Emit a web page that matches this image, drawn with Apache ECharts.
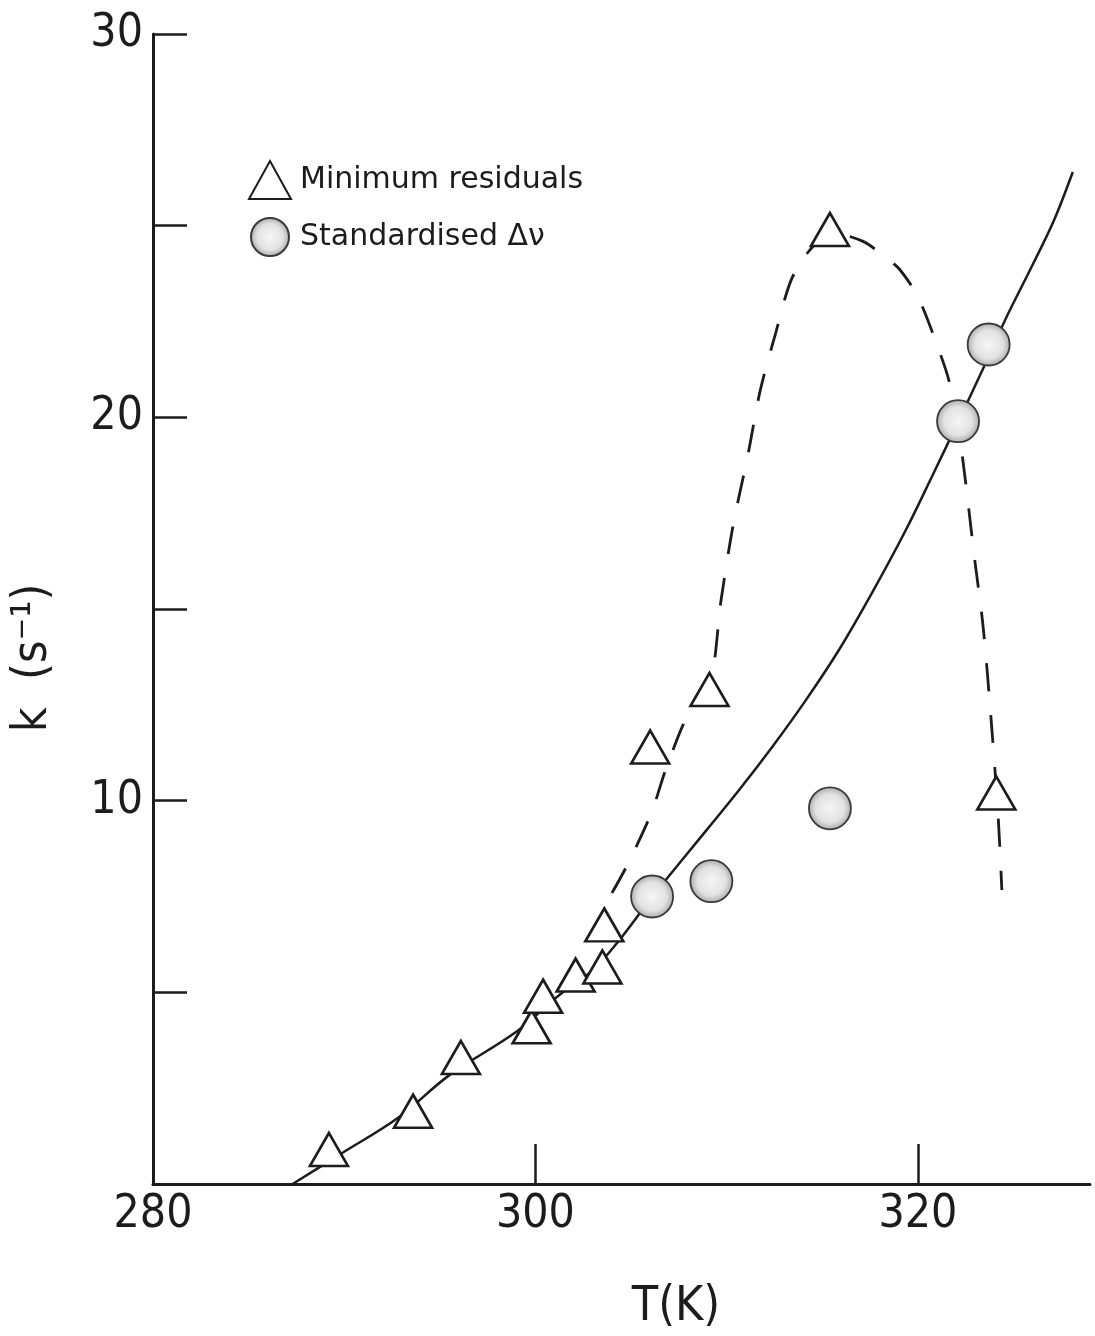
<!doctype html>
<html>
<head>
<meta charset="utf-8">
<title>k vs T</title>
<style type="text/css">
html, body {
  margin: 0;
  padding: 0;
  background: #fff;
}
#chart {
  width: 1095px;
  height: 1336px;
}
</style>
<script type="text/javascript" src="https://cdn.jsdelivr.net/npm/echarts@6/dist/echarts.min.js"></script>
</head>
<body>
<div id="chart"></div>
<script type="text/javascript">
// minimum residuals (triangles)
var triT = [289.2, 293.6, 296.1, 299.8, 300.4, 302.1, 303.5, 303.6, 306.0, 309.1, 315.4, 324.1];
var triK = [0.9, 1.9, 3.3, 4.1, 4.9, 5.45, 5.66, 6.76, 11.4, 12.9, 24.9, 10.2];

// standardised (circles)
var circT = [306.1, 309.2, 315.4, 322.1, 323.7];
var circK = [7.5, 7.9, 9.8, 19.9, 21.9];

// solid curve
var solidT = [287.3, 289.9, 292.8, 295.5, 299.0, 301.25, 303.0, 304.4, 306.1, 308.04, 310.65, 312.38, 314.15, 315.87, 317.6, 319.37, 320.73, 322.1, 323.4, 324.6, 326.0, 327.1, 328.1];
var solidK = [0, 0.81, 1.72, 2.84, 3.97, 4.93, 5.58, 6.37, 7.49, 8.68, 10.28, 11.4, 12.63, 13.93, 15.42, 17.06, 18.45, 19.88, 21.26, 22.58, 23.98, 25.12, 26.4];

// dashed curve
var dashT = [304.0, 304.8, 306.06, 306.84, 308.04, 309.09, 309.71, 310.34, 311.12, 311.75, 312.58, 313.37, 314.31, 315.46, 317.13, 318.28, 319.06, 320.0, 320.94, 321.67, 322.27, 322.98, 323.39, 323.76, 324.18, 324.39];
var dashK = [7.59, 8.32, 9.68, 10.85, 12.31, 12.94, 15.24, 17.19, 19.04, 20.69, 22.23, 23.58, 24.34, 24.81, 24.59, 24.18, 23.85, 23.14, 21.97, 20.87, 19.18, 16.25, 14.64, 12.55, 9.73, 7.67];

var xLabels = [280, 300, 320];
var xTicks = [300, 320];
var yLabels = [10, 20, 30];
var yTicks = [5, 10, 15, 20, 25, 30];

function pairs(a, b) {
    var res = [];
    for (var i = 0; i < a.length; i++) {
        res.push([a[i], b[i]]);
    }
    return res;
}

var ink = '#1c1c1c';
var font = "'DejaVu Sans Condensed', 'Liberation Sans Narrow', 'DejaVu Sans', sans-serif";
var legendFont = "'DejaVu Sans', sans-serif";

var circleFill = {
    type: 'radial', x: 0.5, y: 0.5, r: 0.5,
    colorStops: [
        {offset: 0, color: '#f6f6f6'},
        {offset: 0.65, color: '#e2e2e2'},
        {offset: 1, color: '#a9a9a9'}
    ]
};

var myChart = echarts.init(document.getElementById('chart'));

var option = {
    backgroundColor: '#fff',
    animation: false,
    grid: {left: 153, right: 5, top: 34, bottom: 152},
    legend: {
        left: 243,
        top: 155,
        orient: 'vertical',
        itemWidth: 42,
        itemHeight: 38,
        itemGap: 17,
        textStyle: {fontSize: 30, color: ink, fontFamily: legendFont, padding: [0, 0, 0, 4]},
        data: [
            {name: 'Minimum residuals', icon: 'triangle'},
            {name: 'Standardised \u0394\u03bd', icon: 'circle'}
        ]
    },
    xAxis: {
        type: 'value',
        min: 280,
        max: 329,
        interval: 20,
        splitLine: {show: false},
        axisLine: {show: true, onZero: false, lineStyle: {color: ink, width: 3}},
        axisTick: {show: true, inside: true, length: 40, customValues: xTicks, lineStyle: {color: ink, width: 2.5}},
        axisLabel: {customValues: xLabels, fontSize: 46, color: ink, fontFamily: font, margin: 8}
    },
    yAxis: {
        type: 'value',
        min: 0,
        max: 30,
        interval: 5,
        splitLine: {show: false},
        axisLine: {show: true, onZero: false, lineStyle: {color: ink, width: 3}},
        axisTick: {show: true, inside: true, length: 34, customValues: yTicks, lineStyle: {color: ink, width: 2.5}},
        axisLabel: {customValues: yLabels, fontSize: 46, color: ink, fontFamily: font, margin: 10}
    },
    graphic: [
        {
            type: 'text',
            x: 34, y: 658,
            rotation: Math.PI / 2,
            style: {text: 'k  (s\u207b\u00b9)', fill: ink, font: "48px " + font, align: 'center', verticalAlign: 'middle'}
        },
        {
            type: 'text',
            x: 676, y: 1308,
            style: {text: 'T(K)', fill: ink, font: "48px " + font, align: 'center', verticalAlign: 'middle'}
        }
    ],
    series: [
        {
            type: 'line',
            data: pairs(solidT, solidK),
            smooth: 0.35,
            symbol: 'none',
            z: 2,
            lineStyle: {color: ink, width: 2.5}
        },
        {
            type: 'line',
            data: pairs(dashT, dashK),
            smooth: 0.3,
            symbol: 'none',
            z: 2,
            lineStyle: {color: ink, width: 2.8, type: [28, 24]}
        },
        {
            name: 'Standardised \u0394\u03bd',
            type: 'scatter',
            data: pairs(circT, circK),
            symbol: 'circle',
            symbolSize: 42,
            z: 4,
            itemStyle: {color: circleFill, borderColor: '#3a3a3a', borderWidth: 1.8, opacity: 1}
        },
        {
            name: 'Minimum residuals',
            type: 'scatter',
            data: pairs(triT, triK),
            symbol: 'triangle',
            symbolSize: [38, 33],
            z: 5,
            itemStyle: {color: '#fff', borderColor: ink, borderWidth: 2.6, opacity: 1}
        }
    ]
};
myChart.setOption(option);
</script>
</body>
</html>
